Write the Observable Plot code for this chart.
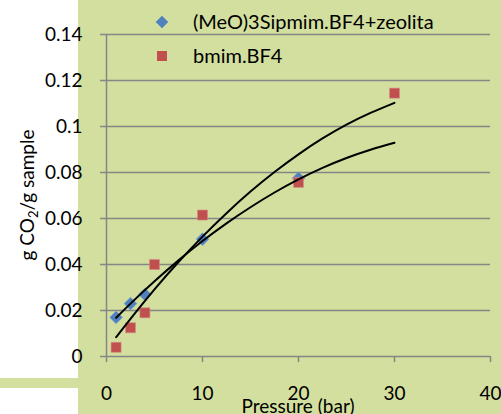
<!DOCTYPE html>
<html>
<head>
<meta charset="utf-8">
<script src="https://cdn.jsdelivr.net/npm/d3@7"></script>
<script src="https://cdn.jsdelivr.net/npm/@observablehq/plot@0.6"></script>
<style>
  html, body { margin: 0; padding: 0; background: white; }
  #wrap { position: relative; width: 501px; height: 414px; overflow: hidden; background: white; }
  #bg { position: absolute; left: 78px; top: 0; width: 423px; height: 414px; background: #d2df9e; }
  #strip { position: absolute; left: 0; top: 378px; width: 78px; height: 10px; background: #d2df9e; }
  #chart { position: absolute; left: 0; top: 0; }
</style>
</head>
<body>
<div id="wrap"><div id="bg"></div><div id="strip"></div><div id="chart"></div></div>
<script>
// ---- data ----
const seriesNames = ["(MeO)3Sipmim.BF4+zeolita", "bmim.BF4"];
const seriesColors = ["#4f81bd", "#c0504d"];

const pressureBlue = [1, 2.5, 4, 10, 20];
const co2Blue = [0.017, 0.023, 0.027, 0.051, 0.0775];

const pressureRed = [1, 2.5, 4, 5, 10, 20, 30];
const co2Red = [0.004, 0.0125, 0.019, 0.040, 0.0615, 0.0757, 0.1145];

// trend lines
const trendX = [1, 2.5, 5, 7.5, 10, 12.5, 15, 17.5, 20, 22.5, 25, 27.5, 30];
const trendRed = [0.0084, 0.0164, 0.0292, 0.0411, 0.0521, 0.0623, 0.0717, 0.0802, 0.0879, 0.0948, 0.1008, 0.1059, 0.1103];
const trendBlue = [0.0168, 0.0230, 0.0327, 0.0418, 0.0502, 0.0579, 0.0649, 0.0713, 0.0770, 0.0820, 0.0863, 0.0899, 0.0929];

const xTicks = [0, 10, 20, 30, 40];
const yTicks = [0, 0.02, 0.04, 0.06, 0.08, 0.1, 0.12, 0.14];

const blue = pressureBlue.map((p, i) => ({p, v: co2Blue[i]}));
const red = pressureRed.map((p, i) => ({p, v: co2Red[i]}));
const tRed = trendX.map((p, i) => ({p, v: trendRed[i]}));
const tBlue = trendX.map((p, i) => ({p, v: trendBlue[i]}));

const grid = "#868686";
const font = "Lato";

const svg = Plot.plot({
  width: 501, height: 414,
  marginLeft: 106, marginRight: 11, marginTop: 34, marginBottom: 58,
  x: {domain: [0, 40]},
  y: {domain: [0, 0.14]},
  style: {background: "transparent", fontFamily: font, fontSize: "19px", color: "black"},
  marks: [
    Plot.gridY(yTicks, {stroke: grid, strokeOpacity: 1, strokeWidth: 1.5}),
    Plot.ruleX([0], {stroke: grid, strokeWidth: 1.5}),
    Plot.axisY(yTicks, {tickSize: 6, tickPadding: 18, stroke: grid, strokeWidth: 1.5, fill: "black",
      tickFormat: d => String(+d.toFixed(2)), label: null}),
    Plot.axisX(xTicks, {tickSize: 6, tickPadding: 24, stroke: grid, strokeWidth: 1.5, fill: "black",
      tickFormat: d => String(d), label: null}),
    Plot.dot(blue, {x: "p", y: "v", symbol: "diamond2", r: 5.8, fill: seriesColors[0], stroke: "#7fa3d0", strokeWidth: 0.6}),
    Plot.dot(red, {x: "p", y: "v", symbol: "square", r: 5.65, fill: seriesColors[1], stroke: "#d98a88", strokeWidth: 0.6}),
    Plot.line(tRed, {x: "p", y: "v", stroke: "black", strokeWidth: 2, curve: "natural"}),
    Plot.line(tBlue, {x: "p", y: "v", stroke: "black", strokeWidth: 2, curve: "natural"})
  ]
});
document.getElementById("chart").appendChild(svg);

const s = d3.select(svg);
// y axis title with subscript
const yl = s.append("text")
  .attr("transform", "translate(34,195) rotate(-90)")
  .attr("text-anchor", "middle")
  .attr("font-family", font).attr("font-size", 19).attr("fill", "black");
yl.append("tspan").text("g CO");
yl.append("tspan").attr("font-size", 13).attr("dy", 4).text("2");
yl.append("tspan").attr("dy", -4).text("/g sample");

// x axis title
s.append("text").attr("x", 298).attr("y", 413).attr("text-anchor", "middle")
  .attr("font-family", font).attr("font-size", 19).attr("fill", "black").text("Pressure (bar)");

// legend
const legY = [22, 56];
const legSym = [d3.symbol(d3.symbolDiamond2, 101)(), d3.symbol(d3.symbolSquare, 100)()];
seriesNames.forEach((name, i) => {
  s.append("path").attr("d", legSym[i]).attr("transform", `translate(162,${legY[i]})`)
    .attr("fill", seriesColors[i]);
  s.append("text").attr("x", 193).attr("y", legY[i]).attr("dy", "0.35em")
    .attr("text-anchor", "start")
    .attr("font-family", font).attr("font-size", 20).attr("fill", "black").text(name);
});
</script>
</body>
</html>
